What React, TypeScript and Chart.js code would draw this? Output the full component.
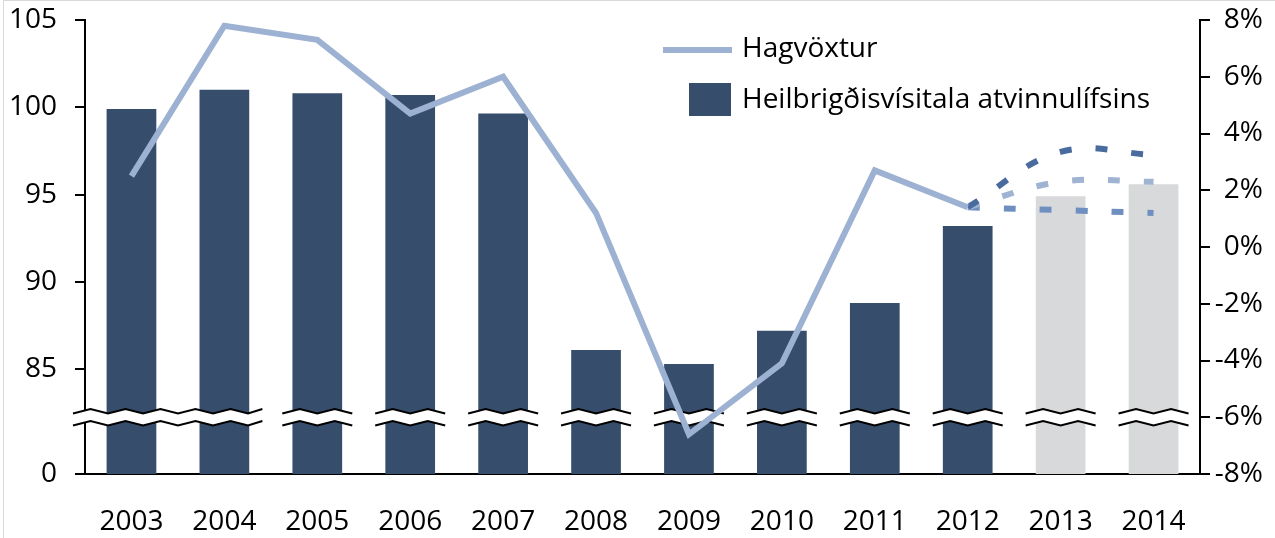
import React, { useEffect, useRef } from 'react';
import { Chart, registerables } from 'chart.js';

Chart.register(...registerables);

const years = ['2003', '2004', '2005', '2006', '2007', '2008', '2009', '2010', '2011', '2012', '2013', '2014'];
const healthIndex = [99.9, 101.0, 100.8, 100.7, 99.65, 86.1, 85.3, 87.2, 88.8, 93.2, 94.9, 95.6];
const isForecast = [false, false, false, false, false, false, false, false, false, false, true, true];
const gdpGrowth = [2.5, 7.8, 7.3, 4.7, 6.0, 1.2, -6.6, -4.1, 2.7, 1.4, null, null];
const scenarioHigh = [null, null, null, null, null, null, null, null, null, 1.4, 3.35, 3.25];
const scenarioMid = [null, null, null, null, null, null, null, null, null, 1.4, 2.3, 2.3];
const scenarioLow = [null, null, null, null, null, null, null, null, null, 1.4, 1.3, 1.2];
const leftTickValues = [79, 85, 90, 95, 100, 105];
const leftTickLabels = ['0', '85', '90', '95', '100', '105'];
const rightMin = -8;
const rightMax = 8;
const breakValue = 82.25;

const lineLabel = 'Hagvöxtur';
const barLabel = 'Heilbrigðisvísitala atvinnulífsins';

const FONT = '"Open Sans", sans-serif';
const DARK = '#374d6c';
const GREY = '#d8d9db';
const LINE = '#9db2d2';

function zigzag(x1: number, x2: number, y: number, amp: number, half: number) {
  const pts: [number, number][] = [];
  let k = 0;
  for (let x = x1; x < x2; x += half, k++) {
    pts.push([x, y + (k % 2 === 0 ? amp : -amp)]);
  }
  pts.push([x2, y + (k % 2 === 0 ? amp : -amp)]);
  return pts;
}

const breakPlugin = {
  id: 'axisBreaks',
  afterDatasetDraw(chart: any, args: any) {
    if (args.meta.type !== 'bar') return;
    const ctx = chart.ctx;
    const xS = chart.scales.x;
    const yS = chart.scales.yL;
    const yc = yS.getPixelForValue(breakValue);
    const segs: [number, number][] = [];
    segs.push([xS.left - 12, xS.getPixelForValue(1) + 38]);
    for (let i = 2; i < years.length; i++) {
      const c = xS.getPixelForValue(i);
      segs.push([c - 35, c + 35]);
    }
    ctx.save();
    for (const [a, b] of segs) {
      const up = zigzag(a, b, yc - 6, 2.3, 17.5);
      const lo = zigzag(a, b, yc + 6, 2.3, 17.5);
      ctx.beginPath();
      up.forEach(([x, y], i) => (i ? ctx.lineTo(x, y) : ctx.moveTo(x, y)));
      for (let i = lo.length - 1; i >= 0; i--) ctx.lineTo(lo[i][0], lo[i][1]);
      ctx.closePath();
      ctx.fillStyle = '#ffffff';
      ctx.fill();
      ctx.strokeStyle = '#000000';
      ctx.lineWidth = 2;
      ctx.lineJoin = 'miter';
      for (const p of [up, lo]) {
        ctx.beginPath();
        p.forEach(([x, y], i) => (i ? ctx.lineTo(x, y) : ctx.moveTo(x, y)));
        ctx.stroke();
      }
    }
    ctx.restore();
  },
};

const legendPlugin = {
  id: 'customLegend',
  afterDraw(chart: any) {
    const ctx = chart.ctx;
    ctx.save();
    ctx.strokeStyle = '#d9d9d9';
    ctx.lineWidth = 1;
    ctx.strokeRect(3.5, 0.5, 1300, 600);
    ctx.strokeStyle = LINE;
    ctx.lineWidth = 6;
    ctx.lineCap = 'butt';
    ctx.beginPath();
    ctx.moveTo(663, 50);
    ctx.lineTo(732, 50);
    ctx.stroke();
    ctx.fillStyle = DARK;
    ctx.fillRect(689, 83, 42, 33);
    ctx.fillStyle = '#000000';
    ctx.font = `28px ${FONT}`;
    ctx.textBaseline = 'middle';
    ctx.textAlign = 'left';
    ctx.fillText(lineLabel, 742, 49);
    ctx.fillText(barLabel, 742, 100);
    ctx.restore();
  },
};

export default function App() {
  const ref = useRef<HTMLCanvasElement | null>(null);
  useEffect(() => {
    if (!ref.current) return;
    const dashed = (data: (number | null)[], color: string) => ({
      type: 'line' as const,
      label: 'scenario',
      data,
      yAxisID: 'yR',
      borderColor: color,
      borderWidth: 6,
      borderDash: [12, 24],
      borderCapStyle: 'butt',
      pointRadius: 0,
      tension: 0.4,
      spanGaps: false,
    });
    const chart = new Chart(ref.current, {
      type: 'bar',
      data: {
        labels: years,
        datasets: [
          {
            type: 'line',
            label: lineLabel,
            data: gdpGrowth,
            yAxisID: 'yR',
            borderColor: LINE,
            borderWidth: 6,
            borderJoinStyle: 'miter',
            borderCapStyle: 'butt',
            pointRadius: 0,
            tension: 0,
          } as any,
          dashed(scenarioHigh, '#4a6b9e') as any,
          dashed(scenarioMid, '#9fb3d3') as any,
          dashed(scenarioLow, '#6e8fc0') as any,
          {
            type: 'bar',
            label: barLabel,
            data: healthIndex,
            yAxisID: 'yL',
            backgroundColor: healthIndex.map((_, i) => (isForecast[i] ? GREY : DARK)),
            barPercentage: 0.535,
            categoryPercentage: 1,
          } as any,
        ],
      },
      options: {
        responsive: false,
        animation: false,
        layout: { padding: { top: 20, right: 12, left: 0, bottom: 0 } },
        plugins: { legend: { display: false }, tooltip: { enabled: false } },
        scales: {
          x: {
            grid: { display: false, drawTicks: false },
            border: { display: true, color: '#000', width: 2 },
            ticks: { color: '#000', font: { family: FONT, size: 28 }, padding: 31, maxRotation: 0 },
            afterFit: (s: any) => { s.height = 64; },
          },
          yL: {
            type: 'linear',
            position: 'left',
            min: 79,
            max: 105,
            afterBuildTicks: (s: any) => { s.ticks = leftTickValues.map((v) => ({ value: v })); },
            ticks: {
              color: '#000',
              font: { family: FONT, size: 28 },
              padding: 18,
              callback: (v: any) => leftTickLabels[leftTickValues.indexOf(Number(v))] ?? '',
            },
            grid: { drawOnChartArea: false, drawTicks: true, tickLength: 10, color: '#000', lineWidth: 2 },
            border: { display: true, color: '#000', width: 2 },
            afterFit: (s: any) => { s.width = 85; s.paddingTop = 0; s.paddingBottom = 0; },
          },
          yR: {
            type: 'linear',
            position: 'right',
            min: rightMin,
            max: rightMax,
            ticks: {
              stepSize: 2,
              color: '#000',
              font: { family: FONT, size: 28 },
              crossAlign: 'far',
              callback: (v: any) => `${v}%`,
            },
            grid: { drawOnChartArea: false, drawTicks: true, tickLength: 10, color: '#000', lineWidth: 2 },
            border: { display: true, color: '#000', width: 2 },
            afterFit: (s: any) => { s.width = 63; s.paddingTop = 0; s.paddingBottom = 0; },
          },
        },
      },
      plugins: [breakPlugin, legendPlugin],
    } as any);
    return () => chart.destroy();
  }, []);
  return (
    <div style={{ position: 'fixed', left: 0, top: 0, width: 1275, height: 538, background: '#fff' }}>
      <canvas ref={ref} width={1275} height={538} />
    </div>
  );
}
